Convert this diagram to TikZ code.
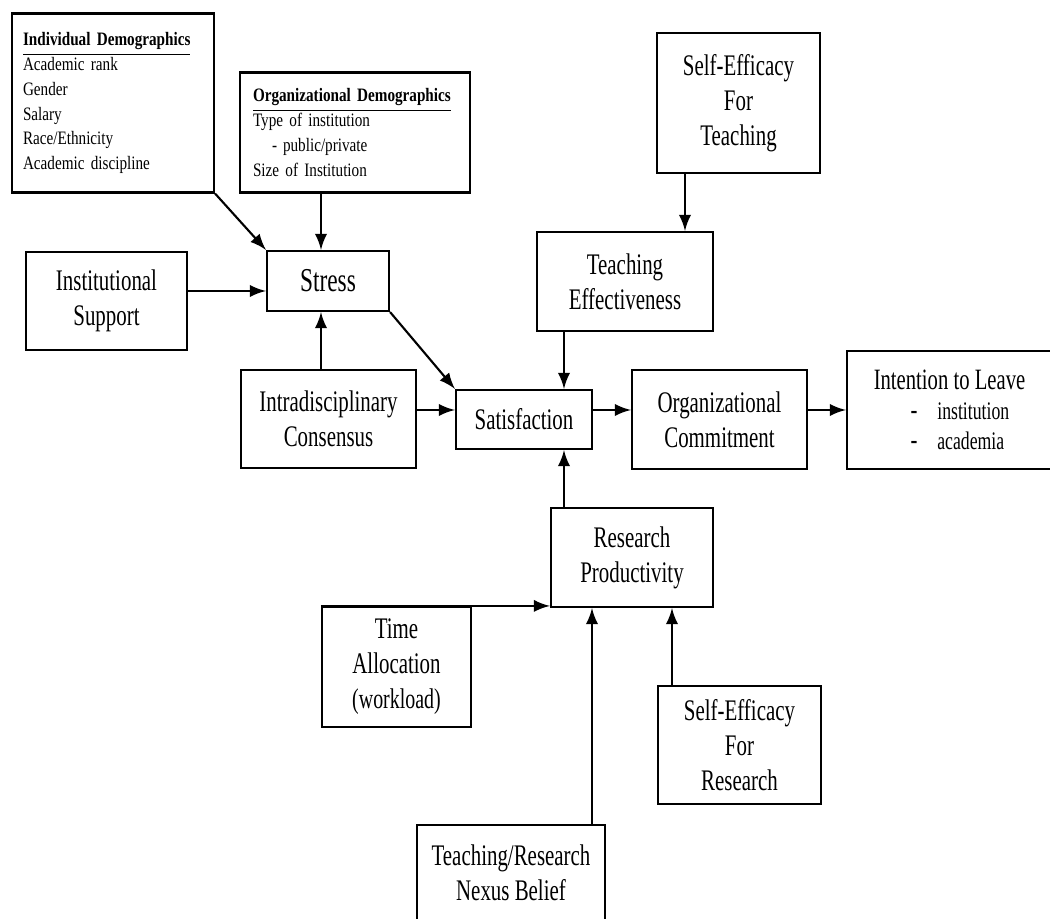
\documentclass[tikz,border=0pt]{standalone}
\usepackage{fontspec}
\setmainfont{Liberation Serif}[FakeStretch=0.7]
\newfontfamily\smallfam{Liberation Serif}[FakeStretch=0.8]
\newcommand\listfont{\smallfam\fontsize{5.4}{7.1}\selectfont\spaceskip=1.1pt plus 0.3pt\relax}
\usepackage{tikz}

\begin{document}
\begin{tikzpicture}[
                box/.style={draw, rectangle, line width=0.6pt, align=center, inner sep=2pt,
                    font=\fontsize{8.5}{10}\selectfont},
                listbox/.style={box, align=left, font=\listfont},
                ->, >=latex, line width=0.6pt
            ]

            \useasboundingbox (0,0) rectangle (10.5,9.19);
            \clip (0,0) rectangle (10.5,9.19);

            % Nodes
            \node[listbox, minimum width=2.02cm, minimum height=1.79cm, text width=1.80cm, inner xsep=0.11cm] (indiv) at (1.13, 8.16)
                {\underline{\textbf{Individual Demographics}}\\ Academic rank\\ Gender\\ Salary\\ Race/Ethnicity\\ Academic discipline};
            \node[listbox, minimum width=2.30cm, minimum height=1.20cm, text width=2.04cm, inner xsep=0.13cm] (orgdem) at (3.55, 7.865)
                {\underline{\textbf{Organizational Demographics}}\\ Type of institution\\ \hspace*{0.19cm}-\hspace{0.06cm}public/private\\ Size of Institution};
            \node[box, minimum width=1.63cm, minimum height=1.40cm] (sefteach) at (7.385, 8.16) {Self-Efficacy\\ For\\ Teaching};
            \node[box, minimum width=1.76cm, minimum height=0.99cm] (teff) at (6.25, 6.375) {Teaching\\ Effectiveness};
            \node[box, minimum width=1.22cm, minimum height=0.60cm, font=\fontsize{9.5}{11}\selectfont] (stress) at (3.28, 6.38) {Stress};
            \node[box, minimum width=1.61cm, minimum height=0.98cm] (instsup) at (1.065, 6.18) {Institutional\\ Support};
            \node[box, minimum width=1.75cm, minimum height=0.98cm] (intra) at (3.285, 5.00) {Intradisciplinary\\ Consensus};
            \node[box, minimum width=1.36cm, minimum height=0.59cm] (satis) at (5.24, 4.995) {Satisfaction};
            \node[box, minimum width=1.75cm, minimum height=0.99cm] (orgcom) at (7.195, 4.995) {Organizational\\ Commitment};
            \node[box, minimum width=2.05cm, minimum height=1.18cm, font=\fontsize{8.4}{8.6}\selectfont] (intent) at (9.495, 5.09)
                {Intention to Leave\\
                 \makebox[1.52cm][l]{\hspace{0.37cm}-\hspace{0.2cm}{\fontsize{7.2}{8.6}\selectfont institution}}\\
                 \makebox[1.52cm][l]{\hspace{0.37cm}-\hspace{0.2cm}{\fontsize{7.2}{8.6}\selectfont academia}}};
            \node[box, minimum width=1.62cm, minimum height=0.99cm] (resprod) at (6.32, 3.615) {Research\\ Productivity};
            \node[box, minimum width=1.49cm, minimum height=1.20cm] (timealloc) at (3.965, 2.52)
                {Time\\ Allocation\\ {\fontsize{8.1}{9}\selectfont (workload)}};
            \node[box, minimum width=1.63cm, minimum height=1.18cm] (sefres) at (7.395, 1.74) {Self-Efficacy\\ For\\ Research};
            \node[box, minimum width=1.88cm, inner ysep=0.2cm, anchor=north] (nexus) at (5.11, 0.95)
                {Teaching/Research\\ Nexus Belief\\ \mbox{}};

            % Edges
            \draw (indiv.south east) -- (stress.north west);
            \draw ([xshift=-0.7mm]stress.north |- orgdem.south) -- ([xshift=-0.7mm]stress.north);
            \draw ([yshift=1mm]instsup.east) -- ([yshift=1mm]instsup.east -| stress.west);
            \draw ([xshift=-0.7mm]stress.south |- intra.north) -- ([xshift=-0.7mm]stress.south);
            \draw (stress.south east) -- (satis.north west);
            \draw ([yshift=0.9mm]intra.east) -- ([yshift=0.9mm]intra.east -| satis.west);
            \draw ([xshift=6mm]teff.north |- sefteach.south) -- ([xshift=6mm]teff.north);
            \draw ([xshift=4mm]satis.north |- teff.south) -- ([xshift=4mm]satis.north);
            \draw ([yshift=0.95mm]satis.east) -- ([yshift=0.95mm]satis.east -| orgcom.west);
            \draw (orgcom.east |- intent.west) -- (intent.west);
            \draw ([xshift=4mm]satis.south |- resprod.north) -- ([xshift=4mm]satis.south);
            \draw (timealloc.north west) -- (timealloc.north west -| resprod.west);
            \draw ([xshift=-4mm]resprod.south |- nexus.north) -- ([xshift=-4mm]resprod.south);
            \draw ([xshift=4mm]resprod.south |- sefres.north) -- ([xshift=4mm]resprod.south);

            \end{tikzpicture}
\end{document}
